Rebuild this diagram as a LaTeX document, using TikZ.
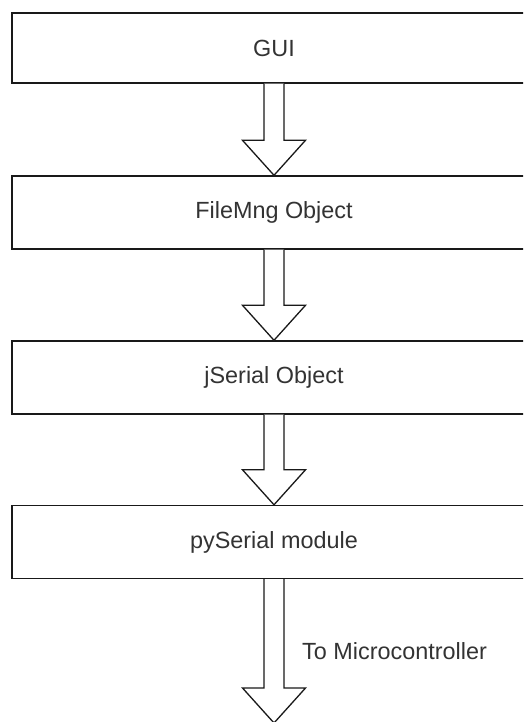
\documentclass[tikz,border=0pt]{standalone}
\usepackage{fontspec}
\setmainfont{Liberation Sans}
\usetikzlibrary{calc}
\tikzset{
  layerbox/.style={draw=black!90, line width=1.4pt, fill=white, minimum width=524pt, minimum height=72pt, inner sep=0pt, text=black!80, font=\fontsize{23.4}{28}\selectfont},
  barrow/.style={draw=black!90, line width=1.3pt, fill=white, line join=miter},
  lbl/.style={inner sep=0pt, text=black!80, font=\fontsize{23.4}{28}\selectfont}
}
\newcommand\blockarrow[2]{%
  \draw[barrow] ($(#1)+(-10,0)$) -- ($(#2)+(-10,35)$) -- ($(#2)+(-31.5,35)$) -- (#2)
    -- ($(#2)+(31.5,35)$) -- ($(#2)+(10,35)$) -- ($(#1)+(10,0)$);%
}
\begin{document}
\begin{tikzpicture}[x=1pt,y=1pt]
\useasboundingbox (0,0) rectangle (523,722);
\clip (0,0) rectangle (523,722);
\fill[white] (0,0) rectangle (523,722);
\node[layerbox, minimum height=70pt] (gui) at (274,674) {GUI};
\node[layerbox, minimum height=73pt] (file) at (274,509.5) {FileMng Object};
\node[layerbox, minimum height=73pt] (jser) at (274,344.5) {jSerial Object};
\node[layerbox, minimum height=73pt] (pyser) at (274,180) {pySerial module};
\coordinate (mcu) at (274,-1);
\blockarrow{gui.south}{file.north}
\blockarrow{file.south}{jser.north}
\blockarrow{jser.south}{pyser.north}
\blockarrow{pyser.south}{mcu}
\node[lbl, anchor=base west] (tolabel) at (302,62) {To Microcontroller};
\end{tikzpicture}
\end{document}
